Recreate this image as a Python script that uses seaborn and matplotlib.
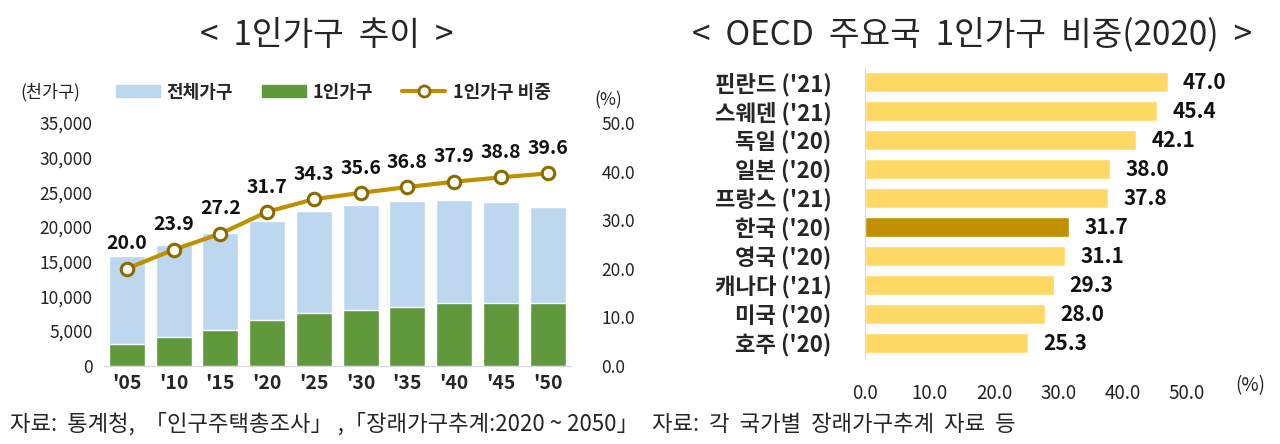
import matplotlib
matplotlib.use("Agg")
import matplotlib.pyplot as plt
from matplotlib.patches import Patch
from matplotlib.lines import Line2D
import seaborn as sns

sns.set_style("white")
plt.rcParams['font.family'] = ['Noto Sans CJK KR', 'DejaVu Sans']

# left chart data (천가구, %)
years = ["'05", "'10", "'15", "'20", "'25", "'30", "'35", "'40", "'45", "'50"]
total_hh = [15887, 17339, 19111, 20927, 22281, 23180, 23800, 23852, 23620, 22865]
single_hh = [3171, 4142, 5203, 6643, 7650, 8080, 8510, 9037, 9080, 9054]
single_ratio = [20.0, 23.9, 27.2, 31.7, 34.3, 35.6, 36.8, 37.9, 38.8, 39.6]

# right chart data (%)
countries = ["핀란드 ('21)", "스웨덴 ('21)", "독일 ('20)", "일본 ('20)", "프랑스 ('21)",
             "한국 ('20)", "영국 ('20)", "캐나다 ('21)", "미국 ('20)", "호주 ('20)"]
oecd_ratio = [47.0, 45.4, 42.1, 38.0, 37.8, 31.7, 31.1, 29.3, 28.0, 25.3]

c_total = '#BDD7EE'
c_single = '#5F993C'
c_line = '#BF9000'
c_bar = '#FFD966'
c_korea = '#BF9000'

fig = plt.figure(figsize=(12.8, 4.44), dpi=100)

# ---- left: 1인가구 추이
ax = fig.add_axes([0.081, 0.1764, 0.365, 0.5466])
sns.barplot(x=years, y=total_hh, color=c_total, width=0.77, ax=ax, saturation=1)
sns.barplot(x=years, y=single_hh, color=c_single, width=0.77, ax=ax, saturation=1)
ax.set_ylim(0, 35000)
ax.set_xlim(-0.5, 9.5)
ax.set_yticks(range(0, 35001, 5000))
ax.set_yticklabels([f'{v:,}' for v in range(0, 35001, 5000)], fontsize=12.5, color='#222222')
ax.tick_params(axis='y', length=0, pad=8)
ax.tick_params(axis='x', length=0, pad=6)
for lab in ax.get_xticklabels():
    lab.set_fontweight('bold')
    lab.set_fontsize(14)
for s in ['top', 'right', 'left']:
    ax.spines[s].set_visible(False)
ax.spines['bottom'].set_color('#D9D9D9')
ax.set_xlabel('')
ax.set_ylabel('')

ax2 = ax.twinx()
sns.lineplot(x=years, y=single_ratio, ax=ax2, color=c_line, linewidth=3,
             marker='o', markersize=9, markerfacecolor='white',
             markeredgecolor='#8C6A00', markeredgewidth=2.2, sort=False)
ax2.set_ylim(0, 50)
ax2.set_yticks(range(0, 51, 10))
ax2.set_yticklabels([f'{v:.1f}' for v in range(0, 51, 10)], fontsize=12.5, color='#222222')
ax2.tick_params(axis='y', length=0, pad=22)
for s in ['top', 'right', 'left', 'bottom']:
    ax2.spines[s].set_visible(False)
ax2.set_ylabel('')
for i, v in enumerate(single_ratio):
    ax2.annotate(f'{v:.1f}', (i, v), xytext=(0, 11), textcoords='offset points',
                 ha='center', va='bottom', fontsize=14, fontweight='bold', color='#111111')

handles = [Patch(color=c_total), Patch(color=c_single),
           Line2D([], [], color=c_line, linewidth=3, marker='o', markersize=8,
                  markerfacecolor='white', markeredgecolor='#8C6A00', markeredgewidth=2)]
leg = fig.legend(handles, ['전체가구', '1인가구', '1인가구 비중'], loc='center left',
                 bbox_to_anchor=(100 / 1280, 1 - 92 / 444), ncol=3, frameon=False,
                 handlelength=2.4, handleheight=0.6, columnspacing=1.6, handletextpad=0.4,
                 prop={'size': 13, 'weight': 'bold'})
fig.text(20 / 1280, 1 - 92 / 444, '(천가구)', fontsize=12.5, va='center', ha='left', color='#222222')
fig.text(608 / 1280, 1 - 100 / 444, '(%)', fontsize=12.5, va='center', ha='center', color='#222222')
fig.text(327 / 1280, 1 - 35 / 444, '<  1인가구  추이  >', fontsize=24, fontweight='medium',
         ha='center', va='center')

# ---- right: OECD 주요국 1인가구 비중
axr = fig.add_axes([0.6758, 0.1937, 0.2516, 0.654])
bar_colors = [c_korea if c.startswith('한국') else c_bar for c in countries]
sns.barplot(x=oecd_ratio, y=countries, hue=countries, palette=bar_colors, legend=False,
            orient='h', width=0.69, ax=axr, saturation=1)
axr.set_xlim(0, 50)
axr.set_ylim(9.5, -0.5)
axr.set_xticks(range(0, 51, 10))
axr.set_xticklabels([f'{v:.1f}' for v in range(0, 51, 10)], fontsize=13.5, color='#222222')
axr.tick_params(axis='x', length=0, pad=18)
axr.tick_params(axis='y', length=0, pad=24)
for lab in axr.get_yticklabels():
    lab.set_fontweight('bold')
    lab.set_fontsize(16)
for s in ['top', 'right', 'bottom']:
    axr.spines[s].set_visible(False)
axr.spines['left'].set_color('#D9D9D9')
axr.set_xlabel('')
axr.set_ylabel('')
for i, v in enumerate(oecd_ratio):
    axr.annotate(f'{v:.1f}', (v, i), xytext=(11, 0), textcoords='offset points',
                 ha='left', va='center', fontsize=15, fontweight='bold', color='#111111',
                 annotation_clip=False)
fig.text(1250 / 1280, 1 - 386 / 444, '(%)', fontsize=13.5, ha='center', va='center', color='#222222')
fig.text(972 / 1280, 1 - 35 / 444, '<  OECD  주요국  1인가구  비중(2020)  >', fontsize=24,
         fontweight='medium', ha='center', va='center')

# ---- footers
fig.text(10 / 1280, 1 - 424 / 444, '자료:  통계청,  「인구주택총조사」 ,「장래가구추계:2020 ~ 2050」',
         fontsize=16, ha='left', va='center')
fig.text(652 / 1280, 1 - 424 / 444, '자료:  각  국가별  장래가구추계  자료  등',
         fontsize=16, ha='left', va='center')

fig.savefig('out.png', dpi=100)
